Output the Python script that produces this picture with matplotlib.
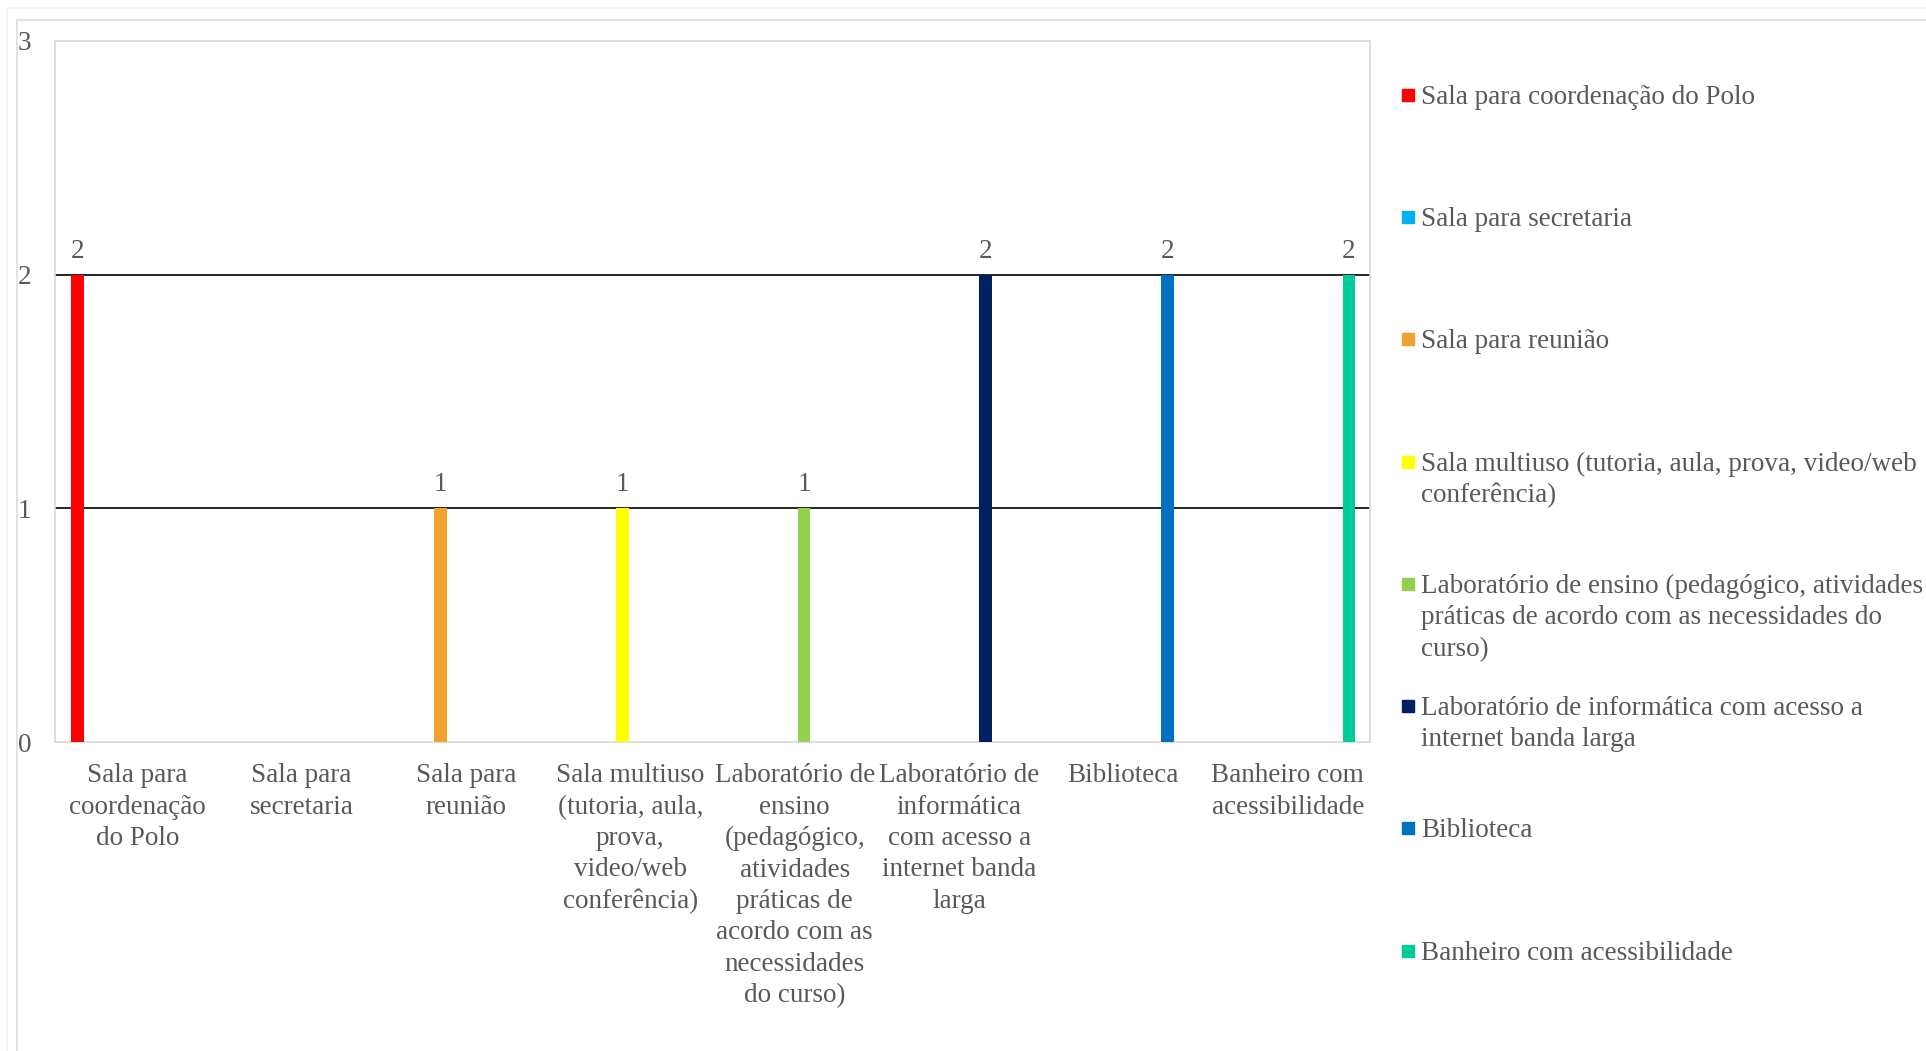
import matplotlib
matplotlib.use("Agg")
import matplotlib.pyplot as plt
from matplotlib.patches import Rectangle
import numpy as np

# dados
categorias = ["Sala para coordenação do Polo", "Sala para secretaria", "Sala para reunião",
              "Sala multiuso (tutoria, aula, prova, video/web conferência)",
              "Laboratório de ensino (pedagógico, atividades práticas de acordo com as necessidades do curso)",
              "Laboratório de informática com acesso a internet banda larga",
              "Biblioteca", "Banheiro com acessibilidade"]
rotulos_x = ["Sala para\ncoordenação\ndo Polo", "Sala para\nsecretaria", "Sala para\nreunião",
             "Sala multiuso\n(tutoria, aula,\nprova,\nvideo/web\nconferência)",
             "Laboratório de\nensino\n(pedagógico,\natividades\npráticas de\nacordo com as\nnecessidades\ndo curso)",
             "Laboratório de\ninformática\ncom acesso a\ninternet banda\nlarga",
             "Biblioteca", "Banheiro com\nacessibilidade"]
rotulos_legenda = ["Sala para coordenação do Polo", "Sala para secretaria", "Sala para reunião",
                   "Sala multiuso (tutoria, aula, prova, video/web\nconferência)",
                   "Laboratório de ensino (pedagógico, atividades\npráticas de acordo com as necessidades do\ncurso)",
                   "Laboratório de informática com acesso a\ninternet banda larga",
                   "Biblioteca", "Banheiro com acessibilidade"]
valores = [2, 0, 1, 1, 1, 2, 2, 2]
cores = ["#FF0000", "#00B0F0", "#F0A22E", "#FFFF00", "#92D050", "#002060", "#0070C0", "#00CC99"]

plt.rcParams['font.family'] = ['Liberation Serif', 'DejaVu Serif']
cinza = '#595959'
fs = 19.5
esp = 1.335
W, H = 1926, 1051

fig = plt.figure(figsize=(W / 100, H / 100), dpi=100)
ax = fig.add_axes([55 / W, 1 - 742 / H, (1370 - 55) / W, (742 - 41) / H])

# bordas do grafico
fig.add_artist(Rectangle((7 / W, -0.1), 2, 1 - 8 / H + 0.1, fill=False, ec='#F3F3F3', lw=1.2,
                         transform=fig.transFigure))
fig.add_artist(Rectangle((17 / W, -0.1), 2, 1 - 20 / H + 0.1, fill=False, ec='#E3E3E3', lw=1.5,
                         transform=fig.transFigure))

n = len(categorias)
x = np.arange(n)
passo = 0.1052
largura = 0.077
for k in range(n):
    alturas = [valores[k] if i == k else 0 for i in range(n)]
    pos = x - 0.364 + passo * k
    ax.bar(pos, alturas, width=largura, color=cores[k], zorder=3)
    if valores[k] > 0:
        ax.annotate(str(valores[k]), (pos[k], valores[k]), xytext=(0, 17), textcoords='offset points',
                    ha='center', va='center', fontsize=fs, color=cinza)

for yv in [1, 2]:
    ax.axhline(yv, color='black', lw=1.2, zorder=1)

ax.set_xlim(-0.5, n - 0.5)
ax.set_ylim(0, 3)
ax.set_yticks([0, 1, 2, 3])
ax.set_xticks(x)
ax.set_xticklabels(rotulos_x, linespacing=esp)
ax.tick_params(axis='y', length=0, pad=17, labelsize=fs, labelcolor=cinza)
ax.tick_params(axis='x', length=0, pad=15.3, labelsize=fs, labelcolor=cinza)
for s in ax.spines.values():
    s.set_color('#D9D9D9')
    s.set_linewidth(1.2)

# legenda
for k, rot in enumerate(rotulos_legenda):
    yc = 94.6 + 122.3 * k
    fig.add_artist(Rectangle((1402 / W, 1 - (yc + 6) / H), 12 / W, 12 / H, color=cores[k],
                             transform=fig.transFigure))
    fig.text(1421 / W, 1 - (yc - 10) / H, rot, va='top', ha='left', fontsize=fs,
             color=cinza, linespacing=esp)

fig.savefig("out.png", dpi=100)
